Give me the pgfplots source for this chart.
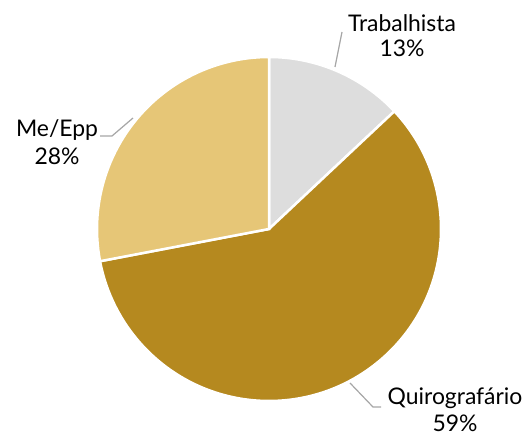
\documentclass[border=0pt]{standalone}
\usepackage{pgfplots}
\pgfplotsset{compat=1.18}
\usepackage{pgfplotstable}
\usepackage{fontspec}
\setmainfont{Lato}

\definecolor{trab}{HTML}{DDDDDD}
\definecolor{quiro}{HTML}{B5891F}
\definecolor{meepp}{HTML}{E6C677}
\definecolor{leader}{HTML}{A6A6A6}

% share of each class, percent
\pgfplotstableread{
label value color
Trabalhista 13 trab
Quirografário 59 quiro
Me/Epp 28 meepp
}\piedata

\begin{document}
\begin{tikzpicture}
\begin{axis}[
    width=527bp, height=437bp, scale only axis,
    xmin=0, xmax=527, ymin=0, ymax=437,
    axis lines=none, clip=false,
  ]
  \path (axis cs:0,0) rectangle (axis cs:527,437);
  \def\angstart{90}
  \pgfplotsforeachungrouped \i in {0,1,2}{%
    \pgfplotstablegetelem{\i}{value}\of\piedata \let\pv\pgfplotsretval
    \pgfplotstablegetelem{\i}{color}\of\piedata \let\pc\pgfplotsretval
    \pgfmathsetmacro\angend{\angstart-3.6*\pv}
    \edef\temp{\noexpand\fill[\pc, draw=white, line width=2.5bp]
      (axis cs:269,208) -- ++(\angstart:172bp)
      arc[start angle=\angstart, end angle=\angend, radius=172bp] -- cycle;}
    \temp
    \global\let\angstart\angend
  }
  % leader lines
  \draw[leader, line width=1.2bp] (axis cs:335,370) -- (axis cs:342,405);
  \draw[leader, line width=1.2bp] (axis cs:100,301) -- (axis cs:112,301) -- (axis cs:133,319);
  \draw[leader, line width=1.2bp] (axis cs:350,54) -- (axis cs:373,30) -- (axis cs:381,30);
  % labels
  \tikzset{lbl/.style={anchor=base, font=\fontsize{23}{28}\selectfont, inner sep=0pt}}
  \node[lbl] at (axis cs:402,405) {Trabalhista};
  \node[lbl] at (axis cs:402,380) {13\%};
  \node[lbl] at (axis cs:57,300) {Me/Epp};
  \node[lbl] at (axis cs:57,272) {28\%};
  \node[lbl] at (axis cs:455,32) {Quirografário};
  \node[lbl] at (axis cs:455,6) {59\%};
\end{axis}
\end{tikzpicture}
\end{document}
